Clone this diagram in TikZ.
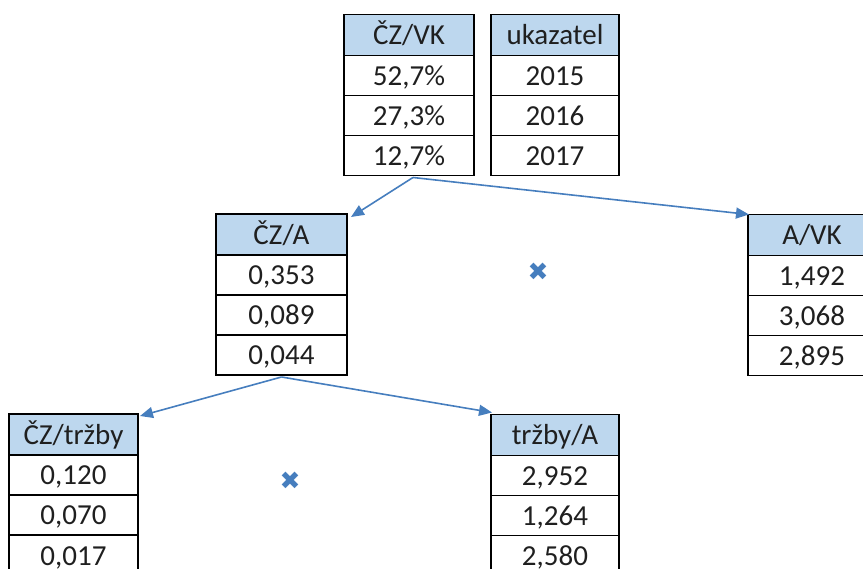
\documentclass[tikz,border=0pt]{standalone}
\usepackage{fontspec}
\setmainfont{Carlito}
\newfontfamily\symfont{DejaVu Sans}
\usetikzlibrary{arrows.meta}
\definecolor{headblue}{RGB}{189,215,238}
\definecolor{linkblue}{RGB}{70,126,190}
\tikzset{
  cell/.style={draw=black, line width=1.4pt, rectangle, inner sep=0pt, outer sep=0pt,
    minimum height=40pt, text height=23pt, text depth=3pt,
    font=\fontsize{29}{31}\selectfont, text=black!88},
  headcell/.style={cell, fill=headblue, minimum height=41pt},
  conn/.style={draw=linkblue, line width=1.6pt,
    -{Triangle[length=13pt,width=11pt]}},
  timesmark/.style={text=linkblue, font=\symfont\fontsize{25}{26}\selectfont, inner sep=0pt}
}
% one table: header and three value rows, stacked downwards
\newcommand\ratiotable[8]{%
  \node[headcell, minimum width=#3pt] (#1h) at (#2,#4) {#5};
  \node[cell, minimum width=#3pt, anchor=north] (#11) at (#1h.south) {#6};
  \node[cell, minimum width=#3pt, anchor=north] (#12) at (#11.south) {#7};
  \node[cell, minimum width=#3pt, anchor=north] (#13) at (#12.south) {#8};
}
\begin{document}
\begin{tikzpicture}[x=1pt,y=-1pt]
\useasboundingbox (0,0) rectangle (863,569);
\clip (0,0) rectangle (863,569);

\ratiotable{vk}{409}{130}{35}{ČZ/VK}{52,7\%}{27,3\%}{12,7\%}
\ratiotable{uk}{555}{128}{35}{ukazatel}{2015}{2016}{2017}
\ratiotable{ca}{281.5}{131}{234.5}{ČZ/A}{0,353}{0,089}{0,044}
\ratiotable{av}{812}{128}{235}{A/VK}{1,492}{3,068}{2,895}
\ratiotable{ct}{73.5}{129}{434.5}{ČZ/tržby}{0,120}{0,070}{0,017}
\ratiotable{ta}{555}{128}{435}{tržby/A}{2,952}{1,264}{2,580}

% decomposition links
\draw[conn] ([xshift=4pt,yshift=-2pt]vk3.south) -- ([xshift=4pt,yshift=-3pt]cah.north east);
\draw[conn] ([xshift=4pt,yshift=-2pt]vk3.south) -- ([xshift=1pt]avh.north west);
\draw[conn] ([yshift=-2pt]ca3.south) -- ([xshift=2pt,yshift=-2pt]cth.north east);
\draw[conn] ([yshift=-2pt]ca3.south) -- ([xshift=1pt,yshift=2pt]tah.north west);

% multiplication signs
\node[timesmark] (m1) at (538,272) {✖};
\node[timesmark] (m2) at (290,481) {✖};
\end{tikzpicture}
\end{document}
